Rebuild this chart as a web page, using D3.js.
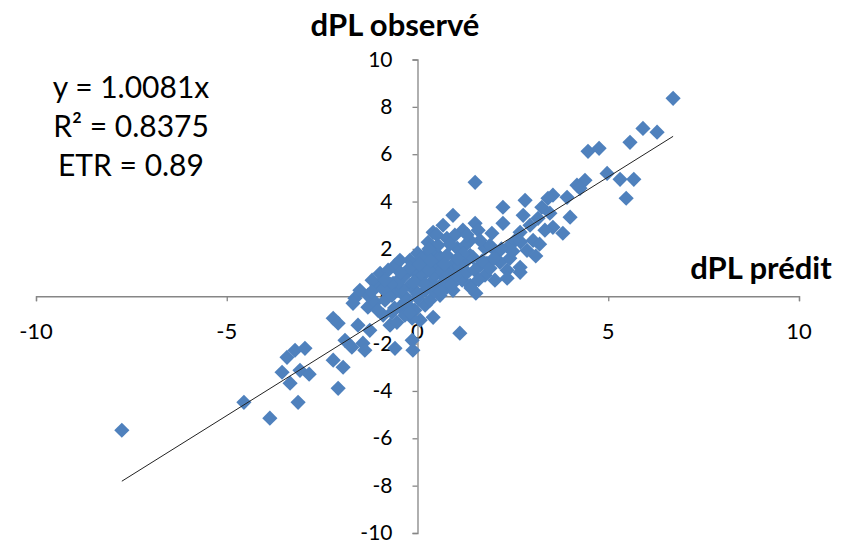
<!DOCTYPE html>
<html><head><meta charset="utf-8">
<script src="https://cdn.jsdelivr.net/npm/d3@7"></script>
<style>body{margin:0;background:#fff}svg{display:block}text{font-family:Lato,"Open Sans",sans-serif}</style>
</head><body><svg id="c" width="842" height="543"></svg>
<script>
const xTicks=[-10,-5,0,5,10];
const yTicks=[-10,-8,-6,-4,-2,0,2,4,6,8,10];
const slope=1.0081;
const eqLines=["y = 1.0081x","R² = 0.8375","ETR = 0.89"];
const xTitle="dPL prédit", yTitle="dPL observé";
const predicted=[-7.75,-4.55,-3.87,-3.13,-3.21,-3.42,-3.55,-3.34,-3.08,-2.84,-2.95,-2.08,-2.21,-1.95,-1.9,-1.72,-1.43,-1.38,-2.21,-2.08,-1.56,-1.25,-1.64,-1.69,-1.3,-1.11,-0.98,-1.06,-0.8,-0.64,-0.46,-0.46,-0.72,-0.54,-0.59,-0.14,-0.12,0.07,1.11,0.41,1.53,0.77,0.93,-0.59,-0.2,0,0.41,0.59,0.28,0.41,0.77,0.93,1.04,0.2,0.59,1.11,1.45,1.82,2.35,1.19,1.51,1.59,1.95,2.24,2.24,1.77,2.08,2.37,2.69,2.87,3.03,2.77,3.26,3.47,3.55,3.81,3.55,3.92,4.0,4.18,1.51,2.35,2.69,1.17,6.7,5.91,6.28,5.57,4.47,4.76,4.97,5.31,5.67,5.47,4.39,4.26,3.42,-0.85,-0.67,-0.51,-0.33,-0.2,-0.07,0.07,0.2,0.33,0.46,0.59,0.72,0.85,0.98,1.25,1.38,1.64,1.77,1.9,2.03,2.16,2.42,2.56,2.69,2.95,3.16,3.34,2.82,1.9,1.64,1.38,1.25,0.98,0.67,0.54,0.07,-0.07,-0.33,-0.25,-0.07,0.2,0.33,0.59,0.01,-0.14,-0.33,-0.67,-0.9,-1.04,-1.3,-1.51,-1.19,-0.77,-0.46,0.2,0.38,0.77,1.17,1.38,3.2,3.1,-0.4,-0.1,0.15,0.3,0.5,0.65,0.8,0.9,1.0,1.1,1.3,1.5,1.6,1.7,2.0,2.2,2.5,2.7,0.3,0.5,0.1,-0.2,-0.5,-0.7,-0.9,-1.2,-0.3,0.0,0.2,0.45,1.2,0.85,1.3,-0.6,-0.2,-0.45,0.05,0.35,0.7,1.05,-0.85,0.6,1.4];
const observed=[-5.66,-4.48,-5.15,-4.48,-2.28,-2.58,-3.21,-3.67,-3.13,-3.29,-2.2,-3.89,-2.7,-3.0,-1.86,-2.15,-1.98,-2.28,-0.93,-1.14,-1.22,-1.44,-0.08,-0.3,-0.46,-0.25,0.97,0.46,0.25,0.55,0.76,-0.46,-1.22,-1.1,-2.2,-1.86,-2.28,-1.01,-1.56,-0.89,0.13,0.38,0.25,1.31,1.52,1.82,1.94,1.65,2.28,2.7,2.45,3.42,2.03,1.39,1.52,1.94,1.65,1.39,1.1,2.79,3.08,2.79,2.66,3.08,3.76,2.03,1.86,2.07,1.22,1.94,2.36,3.42,3.76,3.51,2.91,2.66,4.27,4.18,3.34,4.69,4.81,0.76,1.01,1.1,8.36,7.09,6.93,6.5,6.12,6.25,5.19,4.94,4.94,4.14,4.9,4.56,4.14,-0.17,0.04,0.25,0,0.46,0.25,0.68,0.25,0.55,0.89,1.1,0.76,1.18,1.44,1.44,1.73,1.31,0.89,1.18,0.68,1.44,1.6,2.36,2.7,3.0,3.29,2.79,4.05,2.15,2.36,2.36,2.15,2.58,3.0,2.15,1.31,1.01,0.89,-0.38,-0.59,-0.38,-0.17,0.04,-0.08,-0.93,-0.8,-0.68,-0.8,-0.59,0.04,0.25,0.68,1.1,1.52,1.73,1.31,1.73,0.68,0.46,2.2,1.7,0.3,0.6,0.9,1.1,0.4,0.55,0.95,0.5,0.9,1.3,1.0,1.1,0.7,1.5,1.6,2.0,1.9,2.3,2.0,2.6,1.6,1.2,0.6,0.5,0.3,0.2,-0.2,0.1,0.5,0.2,1.8,2.2,2.6,-0.5,-0.7,1.0,1.35,1.5,1.35,1.6,0.7,0.2,0.35];

const svg=d3.select("#c");
const x=d3.scaleLinear().domain([-10,10]).range([36,799]);
const y=d3.scaleLinear().domain([-10,10]).range([533,59.5]);
const axisCol="#868686";

// x axis
const gx=svg.append("g").attr("transform",`translate(0,${y(0)})`)
  .call(d3.axisBottom(x).tickValues(xTicks).tickSize(5).tickSizeOuter(5).tickFormat(""));
gx.selectAll("path,line").attr("stroke",axisCol).attr("stroke-width",1.3);
svg.append("g").selectAll("text").data(xTicks).join("text")
  .attr("x",d=>x(d)).attr("y",y(0)+43).attr("text-anchor","middle")
  .attr("font-size",22).attr("fill","#000").text(d=>d);
// y axis
const gy=svg.append("g").attr("transform",`translate(${x(0)},0)`)
  .call(d3.axisLeft(y).tickValues(yTicks).tickSize(5).tickSizeOuter(5).tickFormat(""));
gy.selectAll("path,line").attr("stroke",axisCol).attr("stroke-width",1.3);
svg.append("g").selectAll("text").data(yTicks).join("text")
  .attr("x",x(0)-25).attr("y",d=>y(d)+7).attr("text-anchor","end")
  .attr("font-size",21).attr("fill","#000").text(d=>d);

// points
const pts=predicted.map((p,i)=>[p,observed[i]]);
svg.append("g").selectAll("path").data(pts).join("path")
  .attr("d","M0,-7.6L7.6,0L0,7.6L-7.6,0Z")
  .attr("transform",d=>`translate(${x(d[0])},${y(d[1])})`)
  .attr("fill","#4F81BD");

// trendline
const ext=d3.extent(predicted);
svg.append("line").attr("x1",x(ext[0])).attr("y1",y(ext[0]*slope))
  .attr("x2",x(ext[1])).attr("y2",y(ext[1]*slope))
  .attr("stroke","#222").attr("stroke-width",1);

// titles
svg.append("text").attr("x",395).attr("y",36).attr("text-anchor","middle")
  .attr("font-size",31).attr("font-weight","bold").text(yTitle);
svg.append("text").attr("x",761).attr("y",279).attr("text-anchor","middle")
  .attr("font-size",31).attr("font-weight","bold").text(xTitle);
svg.append("g").selectAll("text").data(eqLines).join("text")
  .attr("x",131).attr("y",(d,i)=>98+i*39).attr("text-anchor","middle")
  .attr("font-size",30).text(d=>d);
</script></body></html>
